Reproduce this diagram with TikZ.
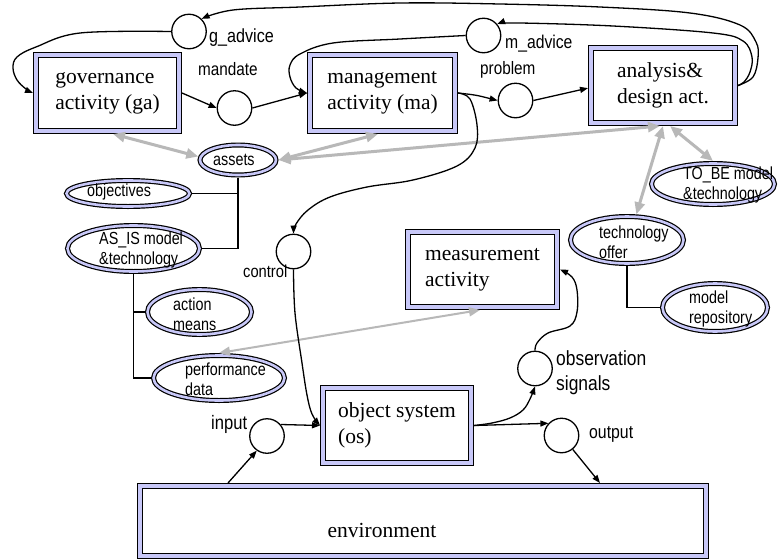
\documentclass[tikz,border=0pt]{standalone}
\usepackage{fontspec}
\setmainfont{Liberation Serif}
\newfontfamily\lsans[FakeStretch=0.85]{Liberation Sans}
\newfontfamily\esans[FakeStretch=0.82]{Liberation Sans}
\usetikzlibrary{shapes.geometric,arrows.meta}
\definecolor{lav}{RGB}{200,200,248}
\definecolor{gry}{RGB}{184,184,184}
\tikzset{
  abox/.style={draw=black, line width=1.4pt, double=lav, double distance=3.6pt, fill=white,
    outer sep=3.2pt, inner sep=0pt, align=left, font=\fontsize{21.5}{26}\selectfont},
  btext/.style={inner sep=0pt, font=\fontsize{21.5}{26}\selectfont},
  ell/.style={ellipse, draw=black, line width=1.2pt, double=lav, double distance=2.6pt, fill=white,
    outer sep=2.5pt, inner sep=0pt},
  etext/.style={inner sep=0pt, align=left, font=\esans\fontsize{17.5}{20}\selectfont},
  circ/.style={circle, draw=black, line width=1.3pt, minimum size=34.5pt, inner sep=0pt, fill=white},
  lbl/.style={inner sep=0pt, align=left, font=\lsans\fontsize{18}{21}\selectfont},
  barrow/.style={draw=black, line width=1.3pt, -{Triangle[length=8pt,width=6pt]}},
  bline/.style={draw=black, line width=1.3pt},
  garrow/.style={draw=gry, line width=3pt, {Triangle[length=12pt,width=10pt]}-{Triangle[length=12pt,width=10pt]}},
  gthin/.style={draw=gry, line width=2pt, {Triangle[length=11pt,width=9pt]}-{Triangle[length=11pt,width=9pt]}},
}
\begin{document}
\begin{tikzpicture}[x=1pt,y=-1pt]
\useasboundingbox (0,0) rectangle (780,560);
\fill[white] (0,0) rectangle (780,560);

% activity boxes
\node[abox, minimum width=142.6pt, minimum height=75.6pt] (ga) at (107.5,93) {governance\\activity (ga)};
\node[abox, minimum width=144.6pt, minimum height=75.6pt] (ma) at (382.5,93) {management\\activity (ma)};
\node[abox, minimum width=143.6pt, minimum height=74.6pt] (ad) at (663,85.5) {analysis\&\\design act.};
\node[abox, minimum width=148.6pt, minimum height=74.6pt] (meas) at (482.5,269.5) {measurement\\activity};
\node[abox, minimum width=147.6pt, minimum height=74.6pt] (os) at (397,425.5) {object system\\(os)};
\node[abox, minimum width=565.6pt, minimum height=69.6pt] (env) at (423,521) {};
\node[btext] (envtxt) at (382,530) {environment};

% circles
\node[circ] (gadv) at (189,31.5) {};
\node[circ] (mand) at (234.5,108) {};
\node[circ] (madv) at (483.5,35.5) {};
\node[circ] (prob) at (515.5,100.5) {};
\node[circ] (ctrl) at (293.5,251.5) {};
\node[circ] (obs) at (535,368.5) {};
\node[circ] (inp) at (267,436) {};
\node[circ] (outp) at (561.5,435.5) {};

% circle labels
\node[lbl, anchor=base west, font=\lsans\fontsize{19}{21}\selectfont] (gadvl) at (209,42) {g\_advice};
\node[lbl, anchor=base west] (mandl) at (198,75) {mandate};
\node[lbl, anchor=base west, font=\lsans\fontsize{18.5}{21}\selectfont] (madvl) at (505,48) {m\_advice};
\node[lbl, anchor=base west] (probl) at (480,74) {problem};
\node[lbl, anchor=base west, font=\lsans\fontsize{17.3}{21}\selectfont] (ctrll) at (243,277) {control};
\node[lbl, anchor=west, font=\lsans\fontsize{20.5}{25}\selectfont] (obsl) at (556,373) {observation\\signals};
\node[lbl, anchor=base west, font=\lsans\fontsize{19.5}{21}\selectfont] (inpl) at (211,429) {input};
\node[lbl, anchor=base west, font=\lsans\fontsize{18.6}{21}\selectfont] (outpl) at (589,438) {output};

% ellipses
\node[ell, minimum width=76pt, minimum height=30pt] (assets) at (238,160) {};
\node[ell, minimum width=123pt, minimum height=26pt] (obj) at (128,193.5) {};
\node[ell, minimum width=132pt, minimum height=46pt] (asis) at (133.5,248.5) {};
\node[ell, minimum width=104pt, minimum height=45pt] (action) at (199.5,312) {};
\node[ell, minimum width=131pt, minimum height=45pt] (perf) at (219,378) {};
\node[ell, minimum width=123pt, minimum height=41pt] (tobe) at (713,184) {};
\node[ell, minimum width=113pt, minimum height=47pt] (techoff) at (627,240) {};
\node[ell, minimum width=105pt, minimum height=48pt] (modrep) at (715,307.5) {};

\node[etext, anchor=west] (assetst) at (213,160) {assets};
\node[etext, anchor=west] (objt) at (87,192) {objectives};
\node[etext, anchor=west] (asist) at (99,250) {AS\_IS model\\\&technology};
\node[etext, anchor=west] (actiont) at (173,314) {action\\means};
\node[etext, anchor=west] (perft) at (185,379) {performance\\data};
\node[etext, anchor=west] (tobet) at (683,185) {TO\_BE model\\\&technology};
\node[etext, anchor=west] (techt) at (599,242) {technology\\offer};
\node[etext, anchor=west] (modt) at (689,309) {model\\repository};

% tree lines
\draw[bline] (assets.south) |- (asis.east);
\draw[bline] (obj.east) -- (obj.east -| assets.south);
\draw[bline] (asis.south) |- (perf.west);
\draw[bline] (action.west) -- (action.west -| asis.south);
\draw[bline] (techoff.south) |- (modrep.west);

% grey double arrows
\draw[garrow] ([xshift=5.5pt]ga.south) -- (assets.175);
\draw[garrow] (assets.east) -- ([xshift=-4.5pt]ma.south);
\draw[garrow] (assets.east) -- ([xshift=-3pt]ad.south);
\draw[garrow] ([xshift=7pt]ad.south) -- (tobe.north);
\draw[garrow] (ad.south) -- (techoff.70);
\draw[gthin] ([xshift=-2.5pt]meas.south) -- (perf.north);

% black flow arrows
\draw[barrow] (ga.east) -- (mand.west);
\draw[barrow] (mand.east) -- (ma.west);
\draw[barrow] (ma.east) .. controls (476,95) .. (prob.west);
\draw[barrow] (prob.east) -- (ad.182);
\draw[barrow] plot[smooth, tension=0.6] coordinates {(gadv.west) (80,33) (36,47) (17,57) (13,68) (17,80) (26,89) (ga.west)};
\draw[barrow] plot[smooth, tension=0.6] coordinates {(madv.west) (400,39) (333,43) (300,54) (290,65) (290,77) (296,88) (ma.west)};
\draw[barrow] plot[smooth, tension=0.6] coordinates {(ad.east) (753,77) (758,58) (756,42) (740,25) (690,13) (600,7) (500,4) (400,3) (300,7) (233,10) (gadv.45)};
\draw[barrow] plot[smooth, tension=0.6] coordinates {(ad.east) (744,82) (750,72) (752,57) (743,41) (713,33) (613,26) (520,23) (madv.40)};
\draw[barrow] plot[smooth, tension=0.6] coordinates {(ma.east) (470,99) (477,125) (475,148) (457,166) (413,180) (367,187) (330,197) (308,210) (296,224) (ctrl.north)};
\draw[barrow] plot[smooth, tension=0.6] coordinates {(ctrl.south) (295,313) (302,363) (307,395) (312,414) (os.west)};
\draw[barrow] (inp.40) -- (os.west);
\draw[barrow] ([xshift=91pt]env.north west) -- (inp.235);
\draw[barrow] (os.east) -- (outp.137);
\draw[barrow] (outp.-51) -- ([xshift=463pt]env.north west);
\draw[barrow] plot[smooth, tension=0.6] coordinates {(os.east) (492,423) (510,418) (523,410) (530,399) (obs.south)};
\draw[barrow] plot[smooth, tension=0.6] coordinates {(obs.north) (537,343) (548,333) (570,326) (577,312) (577,290) (572,277) (meas.east)};
\end{tikzpicture}
\end{document}
